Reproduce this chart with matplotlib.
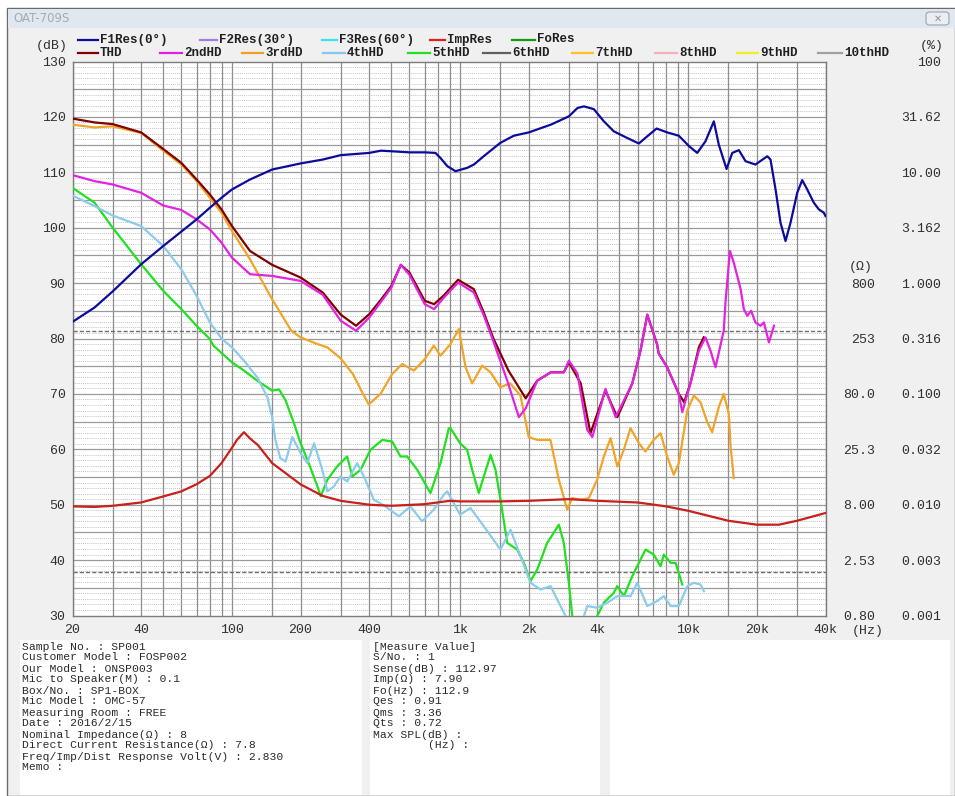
import matplotlib
matplotlib.use("Agg")
import matplotlib.pyplot as plt
from matplotlib.patches import Rectangle, FancyBboxPatch
from matplotlib.lines import Line2D

# ---- measured curves -------------------------------------------------------
# frequency response on axis (dB SPL)
f1_freq = [20, 25, 30, 40, 50, 60, 70, 80, 90, 100, 120, 150, 200, 250, 300,
           400, 450, 500, 600, 700, 780, 820, 880, 955, 1074, 1150, 1270, 1500,
           1720, 2000, 2500, 3000, 3270, 3490, 3860, 4270, 4720, 5400, 6080,
           6620, 7270, 8090, 9100, 10100, 10960, 11910, 12960, 13620, 14730,
           15610, 16680, 17850, 19720, 22220, 22960, 24160, 25400, 26720,
           28100, 30060, 31620, 33260, 35560, 37420, 39360, 40000]
f1_db = [83.0, 85.6, 88.5, 93.4, 96.7, 99.3, 101.5, 103.6, 105.4, 106.9, 108.7,
         110.5, 111.6, 112.3, 113.1, 113.5, 113.9, 113.8, 113.6, 113.6, 113.5,
         112.6, 111.1, 110.2, 110.8, 111.4, 112.9, 115.3, 116.6, 117.2, 118.6,
         120.1, 121.6, 121.9, 121.4, 119.2, 117.4, 116.2, 115.2, 116.5, 117.9,
         117.2, 116.6, 114.7, 113.5, 115.6, 119.2, 115.0, 110.6, 113.5, 114.0,
         112.0, 111.4, 112.9, 112.3, 106.9, 100.9, 97.6, 100.9, 106.3, 108.6,
         106.9, 104.5, 103.3, 102.7, 102.1]

# impedance (ohm)
imp_freq = [20, 25, 30, 40, 50, 60, 70, 80, 90, 100, 105, 112.9, 120, 130, 150,
            200, 250, 300, 400, 500, 700, 900, 1000, 1500, 2000, 3000, 4000,
            6000, 8000, 10000, 15000, 20000, 25000, 30000, 40000]
imp_ohm = [7.73, 7.64, 7.82, 8.38, 9.50, 10.55, 12.24, 14.55, 18.98, 26.1, 30.6,
           36.1, 31.7, 27.6, 19.0, 12.2, 9.6, 8.67, 8.0, 7.82, 8.09, 8.67, 8.57,
           8.57, 8.67, 8.98, 8.67, 8.38, 7.73, 7.05, 5.73, 5.28, 5.28, 5.73, 6.73]

# distortion curves, drawn on the dB scale
thd_freq = [20, 25, 30, 40, 50, 60, 70, 80, 90, 100, 120, 150, 200, 250, 300,
            350, 400, 450, 500, 550, 600, 700, 770, 850, 980, 1150, 1270, 1400,
            1630, 1940, 2180, 2500, 2850, 3000, 3380, 3730, 4340, 4890, 5690,
            6180, 6620, 7300, 7430, 8090, 9100, 9600, 10230, 11140, 11700]
thd_db = [119.7, 119.0, 118.7, 117.2, 114.2, 111.7, 108.7, 106.0, 103.3, 100.3,
          95.8, 93.3, 91.0, 88.3, 84.3, 82.3, 84.4, 87.0, 89.5, 93.3, 91.9, 86.8,
          86.2, 87.8, 90.6, 88.9, 84.7, 80.0, 74.2, 69.2, 72.4, 73.9, 73.9, 75.7,
          71.9, 62.9, 70.6, 65.8, 71.9, 77.8, 84.3, 79.0, 77.3, 74.8, 70.0, 68.5,
          71.9, 78.4, 80.2]

hd2_freq = [20, 25, 30, 40, 50, 60, 70, 80, 90, 100, 120, 150, 200, 250, 300,
            350, 400, 450, 500, 550, 600, 700, 770, 850, 980, 1150, 1270, 1400,
            1610, 1810, 1940, 2180, 2500, 2850, 3000, 3270, 3610, 3800, 4340,
            4810, 5690, 6180, 6620, 7300, 7430, 8090, 9100, 9420, 10230, 11140,
            11910, 12530, 13180, 14320, 14590, 15240, 15850, 16980, 17540,
            18160, 18880, 19720, 20760, 21480, 22600, 23780]
hd2_db = [109.5, 108.4, 107.8, 106.3, 104.0, 103.2, 101.5, 99.7, 97.3, 94.6,
          91.6, 91.3, 90.4, 87.9, 83.2, 81.4, 83.8, 86.6, 89.2, 93.3, 91.5, 86.2,
          85.3, 87.4, 90.1, 88.3, 84.2, 79.5, 72.4, 65.8, 67.4, 72.4, 73.9, 73.9,
          76.0, 73.7, 63.5, 62.2, 70.9, 65.8, 71.9, 77.8, 84.3, 79.0, 77.3, 74.8,
          70.0, 66.7, 71.9, 77.8, 80.2, 77.8, 74.8, 81.4, 86.8, 95.8, 93.7, 88.9,
          85.3, 84.1, 85.0, 82.9, 82.3, 82.9, 79.3, 82.3]

hd3_freq = [20, 25, 30, 40, 50, 60, 70, 80, 90, 100, 120, 150, 182, 200, 237,
            262, 300, 340, 370, 398, 448, 504, 558, 627, 701, 767, 821, 908, 988,
            1057, 1130, 1250, 1360, 1500, 1660, 1840, 2000, 2180, 2490, 2710,
            2950, 3100, 3380, 3670, 3990, 4270, 4570, 4890, 5220, 5590, 6080,
            6500, 7060, 7570, 8090, 8650, 9100, 9910, 10590, 11320, 12130, 12740,
            13620, 14320, 15070, 15350, 15850]
hd3_db = [118.6, 118.1, 118.3, 117.1, 113.9, 111.4, 108.4, 105.4, 102.7, 99.4,
          94.3, 87.1, 81.4, 80.2, 79.0, 78.4, 76.4, 73.5, 70.5, 68.1, 70.0, 73.6,
          75.4, 74.2, 76.3, 78.7, 76.9, 79.0, 81.7, 74.8, 71.9, 75.1, 73.9, 71.2,
          71.9, 69.7, 62.2, 61.7, 61.7, 54.5, 49.1, 51.2, 50.9, 51.2, 54.5, 58.7,
          62.0, 56.9, 59.9, 63.8, 61.1, 59.6, 61.7, 62.9, 58.7, 55.4, 57.5, 67.0,
          69.7, 68.5, 64.9, 63.1, 67.6, 70.0, 66.4, 60.4, 54.8]

hd4_freq = [20, 25, 30, 40, 50, 60, 70, 80, 90, 100, 113, 129, 143, 150, 155,
            163, 172, 184, 200, 214, 229, 249, 262, 280, 299, 320, 354, 379, 419,
            471, 539, 606, 682, 767, 849, 879, 1000, 1111, 1271, 1504, 1664,
            1842, 2036, 2254, 2494, 2757, 2900, 3100, 3400, 3610, 3990, 4420,
            4890, 5590, 5980, 6620, 7310, 7820, 8380, 9100, 9910, 10590, 11320,
            11720]
hd4_db = [105.8, 103.9, 102.2, 100.3, 96.7, 92.5, 87.7, 82.9, 80.0, 78.4, 76.0,
          73.0, 69.4, 65.8, 61.7, 58.4, 57.8, 62.2, 59.3, 57.5, 61.1, 56.3, 52.4,
          53.3, 55.1, 54.2, 57.5, 55.1, 50.9, 49.7, 47.9, 49.7, 47.0, 49.1, 51.8,
          52.4, 48.2, 49.4, 46.1, 41.9, 45.5, 40.7, 35.9, 34.7, 35.3, 31.7, 29.9,
          28.5, 28.5, 31.7, 31.4, 32.3, 33.5, 33.5, 35.9, 31.7, 32.6, 33.5, 31.7,
          31.7, 35.3, 35.9, 35.6, 34.4]

hd5_freq = [20, 25, 30, 40, 50, 60, 70, 80, 83, 100, 113, 129, 150, 161, 172,
            187, 200, 217, 237, 245, 262, 289, 320, 337, 366, 405, 456, 504, 548,
            586, 649, 742, 821, 893, 908, 1000, 1074, 1130, 1208, 1271, 1361,
            1430, 1504, 1610, 1781, 1904, 2036, 2178, 2410, 2712, 2850, 2998,
            3104, 3300, 3700, 3992, 4268, 4722, 4886, 5224, 5688, 6184, 6502,
            7064, 7568, 7820, 8376, 8812, 9420]
hd5_db = [107.2, 104.5, 100.0, 93.4, 88.6, 85.3, 82.3, 79.9, 78.7, 75.7, 74.2,
          72.4, 70.6, 70.8, 68.8, 64.7, 61.1, 57.5, 53.3, 51.5, 54.5, 56.9, 58.7,
          55.1, 56.3, 59.9, 61.7, 61.4, 58.7, 58.7, 56.3, 52.1, 57.5, 63.8, 63.8,
          61.1, 59.9, 56.3, 52.1, 55.1, 59.0, 56.3, 50.9, 43.1, 41.9, 39.5, 36.2,
          38.3, 43.1, 46.4, 43.1, 35.9, 29.9, 25.0, 25.0, 29.9, 32.3, 34.1, 35.3,
          33.5, 37.1, 40.1, 41.9, 41.0, 38.9, 41.0, 39.5, 39.5, 35.6]

# ---- axis labels -----------------------------------------------------------
x_ticks = [20, 40, 100, 200, 400, 1000, 2000, 4000, 10000, 20000, 40000]
x_labels = ["20", "40", "100", "200", "400", "1k", "2k", "4k", "10k", "20k", "40k"]
grid_freqs = [20, 30, 40, 50, 60, 70, 80, 90, 100, 150, 200, 300, 400, 500, 600,
              700, 800, 900, 1000, 1500, 2000, 3000, 4000, 5000, 6000, 7000,
              8000, 9000, 10000, 15000, 20000, 30000, 40000]
db_ticks = [30, 40, 50, 60, 70, 80, 90, 100, 110, 120, 130]
imp_ticks = [0.8, 2.53, 8.0, 25.3, 80.0, 253, 800]
imp_labels = ["0.80", "2.53", "8.00", "25.3", "80.0", "253", "800"]
pct_ticks = [0.001, 0.003162, 0.01, 0.03162, 0.1, 0.3162, 1, 3.162, 10, 31.62, 100]
pct_labels = ["0.001", "0.003", "0.010", "0.032", "0.100", "0.316", "1.000",
              "3.162", "10.00", "31.62", "100"]
limit_lines = [81.3, 37.9]

legend_row1 = ["F1Res(0°)", "F2Res(30°)", "F3Res(60°)", "ImpRes", "FoRes"]
legend_row1_colors = ["#0c0c9c", "#9c80e0", "#38e0f0", "#e02020", "#129a12"]
legend_row2 = ["THD", "2ndHD", "3rdHD", "4thHD", "5thHD", "6thHD", "7thHD",
               "8thHD", "9thHD", "10thHD"]
legend_row2_colors = ["#800000", "#e020e0", "#f0a020", "#80c8f0", "#20e020",
                      "#606060", "#ffc020", "#f8b0b8", "#f0f020", "#a0a0a0"]

info_left = ["Sample No. : SP001", "Customer Model : FOSP002",
             "Our Model : ONSP003", "Mic to Speaker(M) : 0.1",
             "Box/No. : SP1-BOX", "Mic Model : OMC-57",
             "Measuring Room : FREE", "Date : 2016/2/15",
             "Nominal Impedance(Ω) : 8",
             "Direct Current Resistance(Ω) : 7.8",
             "Freq/Imp/Dist Response Volt(V) : 2.830", "Memo :"]
info_mid = ["[Measure Value]", "S/No. : 1", "Sense(dB) : 112.97",
            "Imp(Ω) : 7.90", "Fo(Hz) : 112.9", "Qes : 0.91", "Qms : 3.36",
            "Qts : 0.72", "Max SPL(dB) :", "        (Hz) :"]

# ---- figure ------------------------------------------------------------------
W, H = 955, 796
MONO = ["Liberation Mono", "DejaVu Sans Mono"]
fig = plt.figure(figsize=(W / 100, H / 100), dpi=100, facecolor="white")


def rect(x0, y0, x1, y1, **kw):
    r = Rectangle((x0 / W, 1 - y1 / H), (x1 - x0) / W, (y1 - y0) / H,
                  transform=fig.transFigure, **kw)
    fig.add_artist(r)
    return r


def label(x, y, s, ha="left", size=9.5, **kw):
    kw.setdefault("family", MONO)
    kw.setdefault("color", "#303030")
    return fig.text(x / W, 1 - y / H, s, ha=ha, va="center", size=size, **kw)


# window frame
rect(7, 8, 955, 796, facecolor="#f0f0f0", edgecolor="#6a6a6a", lw=1.0, zorder=0)
rect(8, 9, 955, 28, facecolor="#e1e7ee", edgecolor="none", zorder=0)
label(13, 18, "OAT-709S", size=8.5, family="DejaVu Sans", color="#a3acb6")
btn = FancyBboxPatch((926 / W, 1 - 25 / H), 23 / W, 13 / H,
                     boxstyle="round,pad=0,rounding_size=0.004",
                     transform=fig.transFigure, facecolor="#eaeef2",
                     edgecolor="#9aa3ad", lw=0.8)
fig.add_artist(btn)
label(937.5, 18.5, "✕", ha="center", size=7, family="DejaVu Sans", color="#8a929c")

# info boxes under the chart
rect(20, 640, 362, 795, facecolor="white", edgecolor="none")
rect(370, 640, 600, 795, facecolor="white", edgecolor="none")
rect(610, 640, 950, 795, facecolor="white", edgecolor="none")
for i, s in enumerate(info_left):
    label(22, 646.5 + 11 * i, s, size=8.2, color="#2a2a2a")
for i, s in enumerate(info_mid):
    label(373, 646.5 + 11 * i, s, size=8.2, color="#2a2a2a")

# ---- plot area -------------------------------------------------------------
L, R, T, B = 72.5, 825.5, 61.5, 615.5
ax = fig.add_axes([L / W, 1 - B / H, (R - L) / W, (B - T) / H])
ax.set_facecolor("white")
ax.set_xscale("log")
ax.set_xlim(20, 40000)
ax.set_ylim(30, 130)

for f in grid_freqs:
    ax.axvline(f, color="#8e8e8e", lw=0.9, zorder=1)
for v in range(31, 130):
    if v % 5 == 0:
        ax.axhline(v, color="#9a9a9a", lw=0.9, zorder=1)
    else:
        ax.axhline(v, color="#b4b4b4", lw=0.6, ls=(0, (1, 1.3)), zorder=1)
for v in limit_lines:
    ax.axhline(v, color="#6e6e6e", lw=1.0, ls=(0, (3, 1.5)), zorder=1)

lw = 1.6
ax.plot(hd5_freq, hd5_db, color="#20e020", lw=lw, zorder=3)
ax.plot(hd4_freq, hd4_db, color="#8ccbeb", lw=lw, zorder=3)
ax.plot(hd3_freq, hd3_db, color="#f0a428", lw=lw, zorder=3)
ax.plot(thd_freq, thd_db, color="#800000", lw=lw, zorder=3)
ax.plot(hd2_freq, hd2_db, color="#e024e0", lw=lw, zorder=3)
ax.plot(f1_freq, f1_db, color="#0c0c9c", lw=lw, zorder=4)

ax.set_xticks(x_ticks)
ax.set_xticklabels(x_labels)
ax.xaxis.set_minor_locator(matplotlib.ticker.NullLocator())
ax.set_yticks(db_ticks)
ax.set_yticklabels([str(v) for v in db_ticks])
ax.tick_params(length=0, labelsize=9.5, labelcolor="#303030", pad=5)
ax.tick_params(axis="x", pad=6)
for t in ax.get_xticklabels() + ax.get_yticklabels():
    t.set_family(MONO)
for sp in ax.spines.values():
    sp.set_color("#7c7c7c")
    sp.set_linewidth(1.0)

# impedance on its own log scale (0.8 ohm at 30 dB, 800 ohm at 90 dB)
ax_imp = ax.twinx()
ax_imp.set_yscale("log")
ax_imp.set_ylim(0.8, 80000)
ax_imp.plot(imp_freq, imp_ohm, color="#c8201c", lw=lw, zorder=3)
ax_imp.set_yticks(imp_ticks)
ax_imp.set_yticklabels(imp_labels)
ax_imp.yaxis.set_minor_locator(matplotlib.ticker.NullLocator())
ax_imp.tick_params(length=0, labelsize=9.5, labelcolor="#303030", pad=36)
for t in ax_imp.get_yticklabels():
    t.set_family(MONO)
    t.set_horizontalalignment("right")
for sp in ax_imp.spines.values():
    sp.set_visible(False)

# distortion percent scale
ax_pct = ax.twinx()
ax_pct.set_yscale("log")
ax_pct.set_ylim(0.001, 100)
ax_pct.set_yticks(pct_ticks)
ax_pct.set_yticklabels(pct_labels)
ax_pct.yaxis.set_minor_locator(matplotlib.ticker.NullLocator())
ax_pct.tick_params(length=0, labelsize=9.5, labelcolor="#303030", pad=83.5)
for t in ax_pct.get_yticklabels():
    t.set_family(MONO)
    t.set_horizontalalignment("right")
for sp in ax_pct.spines.values():
    sp.set_visible(False)

label(52, 46, "(dB)", ha="center")
label(932, 46, "(%)", ha="center")
label(861, 267, "(Ω)", ha="center")
label(868, 631, "(Hz)", ha="center")

# ---- legend ------------------------------------------------------------------
row1_pos = [(78, 98), (200, 217), (322, 337), (430, 445), (512, 535)]
row2_pos = [(78, 98), (160, 182), (242, 263), (323, 345), (408, 430),
            (483, 510), (572, 593), (655, 677), (737, 758), (818, 842)]
for names, colors, pos, y in [(legend_row1, legend_row1_colors, row1_pos, 39.5),
                              (legend_row2, legend_row2_colors, row2_pos, 52.5)]:
    for name, c, (x0, x1) in zip(names, colors, pos):
        fig.add_artist(Line2D([x0 / W, x1 / W], [1 - y / H, 1 - y / H],
                              transform=fig.transFigure, color=c, lw=1.6))
        label(x1 + 2, y, name, size=9, weight="bold", color="#202020")

fig.savefig("out.png", dpi=100, facecolor=fig.get_facecolor())
